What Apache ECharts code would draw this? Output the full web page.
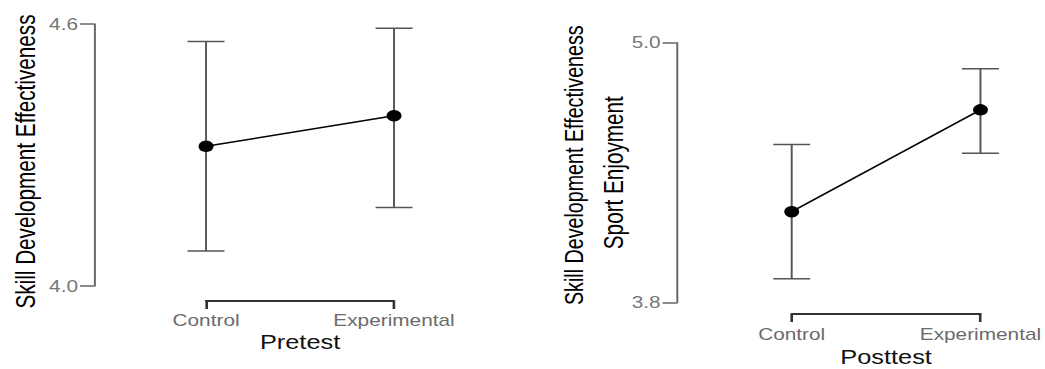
<!DOCTYPE html>
<html>
<head>
<meta charset="utf-8">
<script src="https://cdn.jsdelivr.net/npm/echarts@6/dist/echarts.min.js"></script>
<style>
html,body{margin:0;padding:0;background:#fff;overflow:hidden;width:1045px;height:369px;}
#chart{width:804px;height:369px;transform:scaleX(1.3);transform-origin:0 0;}
</style>
</head>
<body>
<div id="chart"></div>
<script>
// ---- data ----
const categories = ['Control', 'Experimental'];
const pretestMean  = [4.32, 4.39];
const pretestLower = [4.08, 4.18];
const pretestUpper = [4.56, 4.59];
const posttestMean  = [4.22, 4.69];
const posttestLower = [3.91, 4.49];
const posttestUpper = [4.53, 4.88];
const pretestTicks  = [4.0, 4.6];
const posttestTicks = [3.8, 5.0];

const FONT = 'Liberation Sans, Arial, sans-serif';
const chart = echarts.init(document.getElementById('chart'), null, {renderer: 'svg'});

function errData(lo, hi) { return lo.map((v, i) => [i, v, hi[i]]); }

function errRender(params, api) {
  const x = api.value(0);
  const lo = api.coord([x, api.value(1)]);
  const hi = api.coord([x, api.value(2)]);
  const w = 14.2;
  const st = {stroke: '#555', lineWidth: 1.5};
  return {
    type: 'group',
    children: [
      {type: 'line', shape: {x1: lo[0], y1: lo[1], x2: hi[0], y2: hi[1]}, style: st},
      {type: 'line', shape: {x1: lo[0] - w, y1: lo[1], x2: lo[0] + w, y2: lo[1]}, style: st},
      {type: 'line', shape: {x1: hi[0] - w, y1: hi[1], x2: hi[0] + w, y2: hi[1]}, style: st}
    ]
  };
}

function xAxisCfg(gridIndex, name, offset, margin, nameGap) {
  return {
    type: 'category', gridIndex, data: categories, boundaryGap: false,
    offset,
    axisLine: {show: true, lineStyle: {color: '#333', width: 2}},
    axisTick: {show: true, length: 8, lineStyle: {color: '#333', width: 2}},
    axisLabel: {interval: 0, margin, color: '#6b6b6b', fontSize: 16, fontFamily: FONT},
    splitLine: {show: false},
    name, nameLocation: 'middle', nameGap,
    nameTextStyle: {color: '#111', fontSize: 19.5, fontFamily: FONT}
  };
}

function yAxisCfg(gridIndex, min, max, ticks, offset, name, nameGap) {
  return {
    type: 'value', gridIndex, min, max, offset,
    axisLine: {show: true, lineStyle: {color: '#666', width: 1.5}},
    axisTick: {show: true, length: 10.8, customValues: ticks, lineStyle: {color: '#666', width: 1.5}},
    axisLabel: {customValues: ticks, margin: 12.3, color: '#777', fontSize: 16, fontFamily: FONT,
      formatter: v => v.toFixed(1)},
    splitLine: {show: false},
    name, nameLocation: 'middle', nameGap,
    nameTextStyle: {color: '#000', fontSize: 20.7, fontFamily: FONT}
  };
}

const option = {
  animation: false,
  backgroundColor: '#fff',
  grid: [
    {left: 158.5, width: 144.6, top: 24, height: 262, outerBoundsMode: 'none', containLabel: false},
    {left: 609, width: 145.2, top: 42.7, height: 260, outerBoundsMode: 'none', containLabel: false}
  ],
  xAxis: [
    xAxisCfg(0, 'Pretest', 15, 11, 32),
    xAxisCfg(1, 'Posttest', 11.3, 12, 34)
  ],
  yAxis: [
    Object.assign(yAxisCfg(0, 4.0, 4.6, pretestTicks, 86.2, 'Skill Development Effectiveness', 42),
      {nameTextStyle: {color: '#000', fontSize: 20.7, fontFamily: FONT, padding: [0, 13, 0, 0]}}),
    yAxisCfg(1, 3.8, 5.0, posttestTicks, 88.5, 'Sport Enjoyment', 34.5),
    {
      type: 'value', gridIndex: 1, min: 3.8, max: 5.0, offset: 88.5, position: 'left',
      axisLine: {show: false}, axisTick: {show: false}, axisLabel: {show: false}, splitLine: {show: false},
      name: 'Skill Development Effectiveness', nameLocation: 'middle', nameGap: 69,
      nameTextStyle: {color: '#000', fontSize: 19.7, fontFamily: FONT, padding: [0, 0, 0, 15]}
    }
  ],
  series: [
    {type: 'custom', xAxisIndex: 0, yAxisIndex: 0, data: errData(pretestLower, pretestUpper),
      renderItem: errRender, z: 1, silent: true},
    {type: 'line', xAxisIndex: 0, yAxisIndex: 0, data: pretestMean, symbol: 'circle', symbolSize: 11.5,
      itemStyle: {color: '#000'}, lineStyle: {color: '#000', width: 1.5}, z: 3},
    {type: 'custom', xAxisIndex: 1, yAxisIndex: 1, data: errData(posttestLower, posttestUpper),
      renderItem: errRender, z: 1, silent: true},
    {type: 'line', xAxisIndex: 1, yAxisIndex: 1, data: posttestMean, symbol: 'circle', symbolSize: 11.5,
      itemStyle: {color: '#000'}, lineStyle: {color: '#000', width: 1.5}, z: 3}
  ]
};
chart.setOption(option);
</script>
</body>
</html>
